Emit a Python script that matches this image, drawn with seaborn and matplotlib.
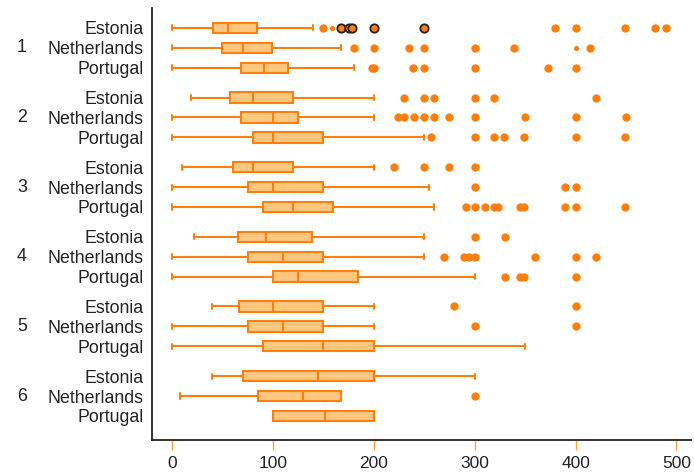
import numpy as np
import pandas as pd
import matplotlib
matplotlib.use("Agg")
import matplotlib.pyplot as plt
import matplotlib.transforms as mtransforms
import seaborn as sns

groups = ["1", "2", "3", "4", "5", "6"]
countries = ["Estonia", "Netherlands", "Portugal"]

# five-number summaries per row (group-major, country-minor)
whisker_low = [0, 0, 0,   19, 0, 0,   10, 0, 0,   22, 0, 0,   40, 0, 0,   40, 8, 100]
q1 =          [41, 50, 68, 58, 68, 80, 60, 75, 90, 65, 75, 100, 66, 75, 90, 70, 85, 100]
medians =     [56, 70, 91, 80, 100, 100, 80, 100, 120, 93, 110, 125, 100, 110, 150, 145, 130, 152]
q3 =          [84, 99, 115, 120, 125, 150, 120, 150, 160, 139, 150, 184, 150, 150, 200, 200, 168, 200]
whisker_high = [140, 168, 180, 200, 200, 250, 200, 255, 260, 250, 250, 300, 200, 200, 350, 300, 168, 200]

outliers = [
    [150, 380, 400, 449, 479, 490],
    [180, 200, 235, 250, 300, 339, 414],
    [198, 200, 239, 250, 300, 373, 400],
    [230, 250, 260, 300, 319, 420],
    [224, 230, 240, 250, 260, 275, 300, 350, 400, 450],
    [257, 300, 319, 329, 349, 400, 449],
    [220, 250, 275, 300],
    [300, 390, 400],
    [291, 300, 310, 319, 323, 345, 349, 390, 400, 449],
    [300, 330],
    [270, 289, 294, 300, 360, 400, 420],
    [330, 345, 349, 400],
    [280, 400],
    [300, 400],
    [],
    [],
    [300],
    [],
]
# outliers drawn with dark edge (Estonia, group 1)
dark_outliers = [168, 175.5, 178, 200, 250]
dark_row = 0
# small outlier dots: (row index, value)
small_rows = [0, 1]
small_values = [159, 400]

x_ticks = [0, 100, 200, 300, 400, 500]

# ---- layout positions ----
n_c = len(countries)
positions = [g * 3.5 + c for g in range(len(groups)) for c in range(n_c)]

rows = []
for i, p in enumerate(positions):
    for v in (whisker_low[i], q1[i], medians[i], q3[i], whisker_high[i]):
        rows.append({"value": v, "pos": p})
box_df = pd.DataFrame(rows)

out_df = pd.DataFrame([{"value": v, "pos": positions[i]}
                       for i, vals in enumerate(outliers) for v in vals])
dark_df = pd.DataFrame({"value": dark_outliers, "pos": [positions[dark_row]] * len(dark_outliers)})
small_df = pd.DataFrame({"value": small_values, "pos": [positions[r] for r in small_rows]})

sns.set_style("white")
plt.rcParams["font.family"] = ["Liberation Sans", "DejaVu Sans"]

ORANGE = "#ff7f0e"
FILL = "#ffc880"
TXT = "#222222"

fig = plt.figure(figsize=(6.94, 4.75), dpi=100)
ax = fig.add_axes([152 / 694, 1 - 440.4 / 475, (691 - 152) / 694, (440.4 - 8) / 475])

sns.boxplot(data=box_df, x="value", y="pos", orient="h", native_scale=True,
            width=0.52, whis=(0, 100), color=FILL, linecolor=ORANGE,
            linewidth=1.5, saturation=1, fliersize=0, ax=ax)

sns.scatterplot(data=out_df, x="value", y="pos", color=ORANGE, s=36,
                linewidth=0, ax=ax, zorder=3)
sns.scatterplot(data=small_df, x="value", y="pos", color=ORANGE, s=14,
                linewidth=0, ax=ax, zorder=3)
sns.scatterplot(data=dark_df, x="value", y="pos", color=ORANGE, s=36,
                edgecolor="#222222", linewidth=1.3, ax=ax, zorder=4)

ax.set_xlim(-19.8, 514.4)
ax.set_ylim(20.73, -1.0)
ax.set_xlabel("")
ax.set_ylabel("")

ax.set_xticks(x_ticks)
ax.set_xticklabels([str(t) for t in x_ticks], fontsize=12.5, color=TXT)
ax.tick_params(axis="x", length=7, width=1, color="#ffa040", pad=4, bottom=True)

ax.set_yticks(positions)
ax.set_yticklabels(countries * len(groups), fontsize=12.8, color=TXT)
ax.tick_params(axis="y", length=0, pad=6)

trans = mtransforms.blended_transform_factory(fig.transFigure, ax.transData)
for g, name in enumerate(groups):
    ax.text(22 / 694, positions[g * n_c + 1], name, transform=trans,
            ha="center", va="center", fontsize=12.8, color=TXT)

for side in ("top", "right"):
    ax.spines[side].set_visible(False)
for side in ("left", "bottom"):
    ax.spines[side].set_color("#222222")
    ax.spines[side].set_linewidth(1.3)
ax.grid(False)

fig.savefig("out.png", dpi=100)
